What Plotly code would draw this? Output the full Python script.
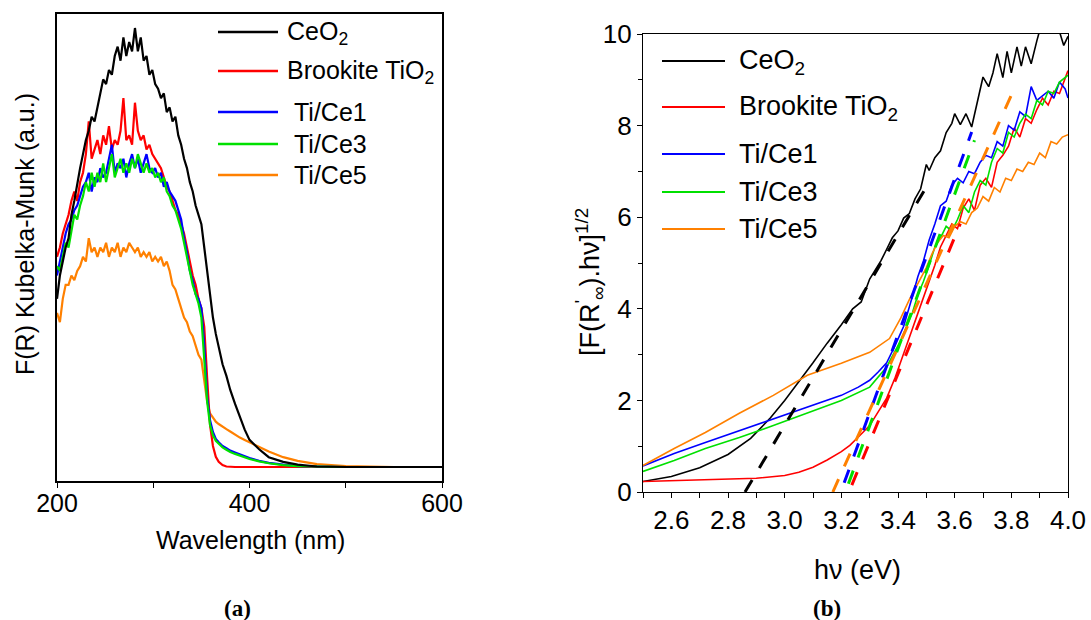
import plotly.graph_objects as go

# ---------------- (a) Kubelka-Munk spectra ----------------
wl_nm = [200, 203, 206, 209, 212, 215, 218, 221, 224, 227,
         230, 233, 236, 239, 242, 245, 248, 251, 254, 257,
         260, 263, 266, 269, 272, 275, 278, 281, 284, 287,
         290, 293, 296, 299, 302, 305, 308, 311, 314, 317,
         320, 323, 326, 329, 332, 335, 338, 341, 344, 347,
         350, 353, 356, 359, 362, 365, 368, 372, 376, 380,
         385, 390, 395, 400, 410, 420, 435, 450, 470, 500,
         550, 600]

km_ceo2 = [0.39, 0.44, 0.47, 0.50, 0.52, 0.57, 0.60, 0.64, 0.67, 0.70,
           0.73, 0.75, 0.78, 0.77, 0.80, 0.83, 0.86, 0.85, 0.88, 0.87,
           0.91, 0.93, 0.90, 0.95, 0.91, 0.94, 0.92, 0.97, 0.92, 0.95,
           0.90, 0.91, 0.87, 0.88, 0.85, 0.84, 0.82, 0.83, 0.79, 0.80,
           0.77, 0.78, 0.74, 0.72, 0.69, 0.67, 0.64, 0.62, 0.59, 0.57,
           0.55, 0.50, 0.45, 0.39, 0.35, 0.315, 0.285, 0.25, 0.225, 0.195,
           0.165, 0.137, 0.11, 0.088, 0.068, 0.051, 0.041, 0.035, 0.031, 0.030,
           0.030, 0.030]

km_brookite = [0.48, 0.50, 0.53, 0.55, 0.57, 0.60, 0.62, 0.60, 0.64, 0.66,
               0.70, 0.77, 0.69, 0.71, 0.73, 0.70, 0.74, 0.72, 0.76, 0.71,
               0.73, 0.72, 0.75, 0.82, 0.73, 0.74, 0.72, 0.81, 0.75, 0.73,
               0.74, 0.71, 0.72, 0.70, 0.69, 0.68, 0.67, 0.65, 0.63, 0.62,
               0.60, 0.58, 0.57, 0.55, 0.53, 0.50, 0.47, 0.44, 0.42, 0.39,
               0.37, 0.33, 0.22, 0.12, 0.075, 0.052, 0.041, 0.034, 0.031, 0.030,
               0.030, 0.030, 0.030, 0.030, 0.030, 0.030, 0.030, 0.030, 0.030, 0.030,
               0.030, 0.030]

km_tice1 = [0.44, 0.47, 0.50, 0.53, 0.55, 0.56, 0.58, 0.59, 0.61, 0.63,
            0.64, 0.66, 0.62, 0.65, 0.64, 0.67, 0.65, 0.66, 0.69, 0.72,
            0.66, 0.68, 0.67, 0.69, 0.65, 0.68, 0.70, 0.67, 0.69, 0.66,
            0.68, 0.70, 0.67, 0.66, 0.67, 0.65, 0.66, 0.63, 0.64, 0.62,
            0.61, 0.60, 0.58, 0.56, 0.52, 0.49, 0.45, 0.43, 0.40, 0.39,
            0.37, 0.29, 0.18, 0.13, 0.105, 0.090, 0.083, 0.075, 0.070, 0.065,
            0.061, 0.057, 0.053, 0.049, 0.043, 0.039, 0.035, 0.032, 0.031, 0.030,
            0.030, 0.030]

km_tice3 = [0.46, 0.45, 0.48, 0.51, 0.50, 0.54, 0.57, 0.56, 0.59, 0.61,
            0.64, 0.62, 0.66, 0.63, 0.66, 0.64, 0.68, 0.64, 0.67, 0.70,
            0.65, 0.67, 0.69, 0.66, 0.68, 0.66, 0.69, 0.67, 0.70, 0.68,
            0.66, 0.68, 0.66, 0.67, 0.65, 0.66, 0.64, 0.65, 0.62, 0.61,
            0.59, 0.58, 0.56, 0.54, 0.51, 0.48, 0.45, 0.42, 0.40, 0.38,
            0.35, 0.27, 0.17, 0.12, 0.098, 0.086, 0.079, 0.072, 0.067, 0.062,
            0.058, 0.054, 0.051, 0.047, 0.042, 0.038, 0.034, 0.032, 0.031, 0.030,
            0.030, 0.030]

km_tice5 = [0.36, 0.34, 0.39, 0.42, 0.42, 0.44, 0.43, 0.45, 0.46, 0.48,
            0.47, 0.52, 0.49, 0.50, 0.48, 0.50, 0.49, 0.51, 0.48, 0.50,
            0.49, 0.51, 0.48, 0.50, 0.49, 0.51, 0.50, 0.49, 0.50, 0.48,
            0.49, 0.48, 0.49, 0.47, 0.48, 0.47, 0.48, 0.46, 0.47, 0.45,
            0.42, 0.41, 0.39, 0.37, 0.35, 0.34, 0.32, 0.31, 0.29, 0.27,
            0.26, 0.21, 0.17, 0.145, 0.135, 0.127, 0.122, 0.116, 0.111, 0.106,
            0.099, 0.093, 0.088, 0.083, 0.072, 0.063, 0.051, 0.043, 0.036, 0.032,
            0.030, 0.030]

# ---------------- (b) Tauc plots ----------------
e_ceo2 = [2.50, 2.60, 2.70, 2.80, 2.88, 2.95, 3.00, 3.05, 3.10, 3.15,
          3.20, 3.24, 3.27, 3.30, 3.32, 3.34, 3.36, 3.38, 3.40, 3.42,
          3.44, 3.46, 3.48, 3.50, 3.51, 3.53, 3.55, 3.57, 3.59, 3.60,
          3.62, 3.64, 3.66, 3.68, 3.70, 3.72, 3.735, 3.75, 3.77, 3.785,
          3.80, 3.82, 3.835, 3.85, 3.87, 3.89, 3.91, 3.93, 3.95, 3.97,
          3.985, 4.00]
t_ceo2 = [0.23, 0.34, 0.53, 0.82, 1.17, 1.62, 2.00, 2.40, 2.82, 3.25,
          3.65, 4.00, 4.15, 4.65, 4.85, 5.05, 5.30, 5.55, 5.70, 5.98,
          6.08, 6.40, 6.62, 7.15, 7.02, 7.30, 7.45, 7.85, 8.05, 8.26,
          8.02, 8.26, 7.97, 8.55, 9.06, 8.85, 9.15, 9.57, 9.05, 9.62,
          9.15, 9.72, 9.30, 9.72, 9.35, 9.85, 10.3, 10.4, 10.2, 10.05,
          9.75, 9.95]

e_brookite = [2.50, 2.70, 2.90, 3.00, 3.05, 3.10, 3.15, 3.20, 3.23, 3.26,
              3.30, 3.33, 3.36, 3.39, 3.42, 3.45, 3.47, 3.49, 3.51, 3.53,
              3.55, 3.57, 3.59, 3.61, 3.63, 3.65, 3.67, 3.69, 3.71, 3.73,
              3.75, 3.77, 3.79, 3.81, 3.83, 3.85, 3.87, 3.89, 3.91, 3.93,
              3.95, 3.97, 4.00]
t_brookite = [0.23, 0.26, 0.30, 0.36, 0.43, 0.54, 0.70, 0.88, 1.02, 1.20,
              1.45, 1.75, 2.05, 2.50, 3.05, 3.55, 3.90, 4.25, 4.60, 4.95,
              5.35, 5.60, 5.85, 5.75, 6.20, 6.40, 6.15, 6.70, 6.85, 6.65,
              7.20, 7.35, 7.55, 7.95, 7.75, 8.15, 8.05, 8.35, 8.60, 8.45,
              8.75, 8.70, 9.20]

e_tice1 = [2.50, 2.61, 2.72, 2.84, 2.96, 3.08, 3.20, 3.26, 3.30, 3.33,
           3.36, 3.39, 3.42, 3.45, 3.47, 3.49, 3.51, 3.53, 3.55, 3.57,
           3.59, 3.61, 3.63, 3.65, 3.67, 3.69, 3.71, 3.73, 3.75, 3.77,
           3.79, 3.81, 3.83, 3.85, 3.87, 3.89, 3.91, 3.93, 3.95, 3.97,
           3.99, 4.00]
t_tice1 = [0.57, 0.84, 1.08, 1.34, 1.60, 1.85, 2.11, 2.29, 2.44, 2.62,
           2.82, 3.20, 3.62, 4.25, 4.70, 5.05, 5.50, 5.85, 6.25, 6.35,
           6.70, 6.85, 6.75, 7.00, 6.95, 7.20, 7.35, 7.30, 7.65, 7.55,
           8.00, 7.90, 8.30, 8.20, 8.85, 8.55, 8.65, 8.75, 8.60, 8.95,
           8.80, 8.60]

e_tice3 = [2.50, 2.61, 2.72, 2.84, 2.96, 3.08, 3.20, 3.30, 3.36, 3.41,
           3.45, 3.47, 3.49, 3.51, 3.53, 3.55, 3.57, 3.59, 3.61, 3.63,
           3.65, 3.67, 3.69, 3.71, 3.73, 3.75, 3.77, 3.79, 3.81, 3.83,
           3.85, 3.87, 3.89, 3.91, 3.93, 3.95, 3.97, 4.00]
t_tice3 = [0.45, 0.69, 0.95, 1.19, 1.45, 1.72, 2.00, 2.29, 2.73, 3.31,
           3.90, 4.30, 4.60, 4.95, 5.35, 5.55, 5.80, 5.70, 5.95, 6.25,
           6.10, 6.55, 6.80, 6.70, 7.20, 7.50, 7.40, 7.85, 7.75, 8.05,
           8.25, 8.15, 8.55, 8.45, 8.75, 8.70, 8.95, 9.10]

e_tice5 = [2.50, 2.61, 2.72, 2.84, 2.96, 3.08, 3.20, 3.30, 3.37, 3.41,
           3.44, 3.47, 3.50, 3.52, 3.54, 3.56, 3.58, 3.60, 3.62, 3.64,
           3.66, 3.68, 3.70, 3.72, 3.74, 3.76, 3.78, 3.80, 3.82, 3.84,
           3.86, 3.88, 3.90, 3.92, 3.94, 3.96, 3.98, 4.00]
t_tice5 = [0.58, 0.95, 1.30, 1.72, 2.11, 2.55, 2.81, 3.05, 3.35, 3.80,
           4.20, 4.55, 4.90, 5.20, 5.45, 5.60, 5.55, 5.80, 5.90, 5.85,
           6.10, 6.20, 6.45, 6.35, 6.65, 6.55, 6.85, 6.80, 7.05, 7.00,
           7.20, 7.15, 7.40, 7.30, 7.65, 7.60, 7.75, 7.80]

# linear fits of the absorption edges (end points: energy, Tauc value)
fit_e_ceo2, fit_t_ceo2 = [2.86, 3.50], [0.0, 6.66]
fit_e_brookite, fit_t_brookite = [3.237, 3.62], [0.15, 5.86]
fit_e_tice1, fit_t_tice1 = [3.21, 3.66], [0.20, 7.86]
fit_e_tice3, fit_t_tice3 = [3.225, 3.67], [0.18, 7.68]
fit_e_tice5, fit_t_tice5 = [3.17, 3.81], [0.0, 8.80]

names = ["CeO<sub>2</sub>", "Brookite TiO<sub>2</sub>", "Ti/Ce1", "Ti/Ce3", "Ti/Ce5"]
colors = ["#000000", "#ff0000", "#0000ff", "#00e000", "#ff8000"]

W, H = 1091, 620


def px(x):
    return x / W


def py(y):
    return 1 - y / H


fig = go.Figure()

# panel (a)
spectra = [km_ceo2, km_brookite, km_tice1, km_tice3, km_tice5]
for idx in [4, 1, 2, 3, 0]:
    fig.add_trace(go.Scatter(x=wl_nm, y=spectra[idx], mode="lines",
                             line=dict(color=colors[idx], width=2.2),
                             xaxis="x", yaxis="y", showlegend=False,
                             hoverinfo="skip"))

# panel (b)
tauc = [(e_ceo2, t_ceo2), (e_brookite, t_brookite), (e_tice1, t_tice1),
        (e_tice3, t_tice3), (e_tice5, t_tice5)]
for idx, (ex, ty) in enumerate(tauc):
    fig.add_trace(go.Scatter(x=ex, y=ty, mode="lines",
                             line=dict(color=colors[idx], width=1.6),
                             xaxis="x2", yaxis="y2", showlegend=False,
                             hoverinfo="skip"))

fits = [(fit_e_ceo2, fit_t_ceo2), (fit_e_brookite, fit_t_brookite),
        (fit_e_tice1, fit_t_tice1), (fit_e_tice3, fit_t_tice3),
        (fit_e_tice5, fit_t_tice5)]
for idx, (ex, ty) in enumerate(fits):
    fig.add_trace(go.Scatter(x=ex, y=ty, mode="lines",
                             line=dict(color=colors[idx], width=3, dash="14px,14px"),
                             xaxis="x2", yaxis="y2", showlegend=False,
                             hoverinfo="skip"))

axis_common = dict(showline=True, linecolor="black", mirror=True, showgrid=False,
                   zeroline=False, ticks="outside", tickcolor="black",
                   automargin=False)

fig.update_layout(
    width=W, height=H, autosize=False,
    margin=dict(l=0, r=0, t=0, b=0, pad=0),
    paper_bgcolor="white", plot_bgcolor="white", showlegend=False,
    font=dict(family="Liberation Sans, Arial, sans-serif", color="black"),
    xaxis=dict(domain=[px(57), px(442)], range=[200, 600], anchor="y",
               tickmode="linear", tick0=200, dtick=200, ticklen=5, tickwidth=1.3,
               linewidth=1.5, tickfont=dict(size=25), ticklabelstandoff=-6,
               minor=dict(tick0=200, dtick=100, ticks="outside", ticklen=5,
                          tickwidth=1.3, tickcolor="black", showgrid=False),
               **axis_common),
    yaxis=dict(domain=[py(481), py(14)], range=[0, 1], anchor="x",
               showline=True, linecolor="black", mirror=True, linewidth=1.5,
               showgrid=False, zeroline=False, ticks="", showticklabels=False,
               automargin=False),
    xaxis2=dict(domain=[px(643), px(1068)], range=[2.5, 4.0], anchor="y2",
                tickmode="linear", tick0=2.6, dtick=0.2, tickformat=".1f",
                ticklen=5, tickwidth=1.3, linewidth=1.3, tickfont=dict(size=26),
                minor=dict(tick0=2.5, dtick=0.1, ticks="outside", ticklen=5,
                           tickwidth=1.3, tickcolor="black", showgrid=False),
                **axis_common),
    yaxis2=dict(domain=[py(492), py(34)], range=[0, 10], anchor="x2",
                tickmode="linear", tick0=0, dtick=2,
                ticklen=5, tickwidth=1.3, linewidth=1.3, tickfont=dict(size=26),
                minor=dict(tick0=0, dtick=1, ticks="outside", ticklen=4,
                           tickwidth=1.3, tickcolor="black", showgrid=False),
                **axis_common),
)

annotations = []
shapes = []


def text(x, y, s, size, angle=0, xanchor="center", family=None):
    d = dict(x=px(x), y=py(y), xref="paper", yref="paper", text=s,
             showarrow=False, xanchor=xanchor, yanchor="middle",
             textangle=angle, font=dict(size=size, color="black"))
    if family:
        d["font"]["family"] = family
    annotations.append(d)


# axis titles
text(250, 540, "Wavelength (nm)", 25)
text(25, 234, "F(R) Kubelka-Munk (a.u.)", 25, angle=-90)
text(857, 570, "h\u03bd (eV)", 27)
text(590, 282, "[F(R<sup>'</sup><sub>\u221e</sub>).h\u03bd]<sup>1/2</sup>", 27, angle=-90)

# panel labels
text(237, 608, "<b>(a)</b>", 23, family="Liberation Serif, Times New Roman, serif")
text(827, 608, "<b>(b)</b>", 23, family="Liberation Serif, Times New Roman, serif")

# legend of panel (a)
rows_a = [32, 71, 112, 144, 175]
text_x_a = [285, 285, 292, 292, 292]
for i, yrow in enumerate(rows_a):
    shapes.append(dict(type="line", xref="paper", yref="paper",
                       x0=px(218), x1=px(278), y0=py(yrow), y1=py(yrow),
                       line=dict(color=colors[i], width=2.6)))
    shift = 1 if "<sub>" in names[i] else 0
    text(text_x_a[i], yrow + shift, names[i], 25, xanchor="left")

# legend of panel (b)
rows_b = [61, 107, 154, 192, 229]
for i, yrow in enumerate(rows_b):
    shapes.append(dict(type="line", xref="paper", yref="paper",
                       x0=px(662), x1=px(725), y0=py(yrow), y1=py(yrow),
                       line=dict(color=colors[i], width=2)))
    shift = 1 if "<sub>" in names[i] else 0
    text(737, yrow + shift, names[i], 27, xanchor="left")

fig.update_layout(annotations=annotations, shapes=shapes)

fig.write_html("out.html")
